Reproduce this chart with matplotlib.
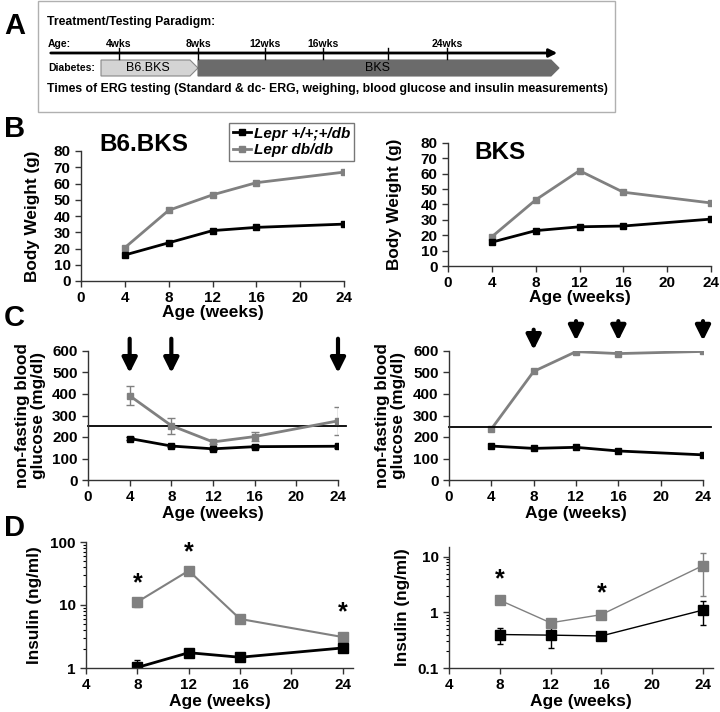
import matplotlib
matplotlib.use('Agg')
import numpy as np
import matplotlib.pyplot as plt
from matplotlib.patches import Polygon, Rectangle
from matplotlib.lines import Line2D

plt.rcParams['font.family'] = ['Liberation Sans', 'DejaVu Sans']
plt.rcParams['font.weight'] = 'bold'
plt.rcParams['axes.labelweight'] = 'bold'

# ---- data ----
weeks = [4, 8, 12, 16, 24]
ins_weeks = [8, 12, 16, 24]

# B: body weight (g)
bw_b6_het = [16, 23.5, 31, 33, 35]
bw_b6_db = [20.5, 43.5, 53, 60.5, 67]
bw_bks_het = [15.5, 23, 25.5, 26, 30.5]
bw_bks_db = [19, 43, 62, 48, 41]

# C: non-fasting blood glucose (mg/dl)
glu_b6_het = [193, 158, 145, 155, 157]
glu_b6_het_err = [8, 6, 6, 6, 6]
glu_b6_db = [392, 253, 177, 202, 275]
glu_b6_db_err = [45, 37, 10, 20, 65]
glu_bks_het = [158, 147, 152, 135, 117]
glu_bks_db = [237, 505, 597, 588, 598]
glu_threshold = [250, 245]
arrows_b6 = [4, 8, 24]
arrows_bks = [8, 12, 16, 24]

# D: insulin (ng/ml)
ins_b6_het = [1.02, 1.75, 1.48, 2.08]
ins_b6_het_lo = [0.0, 0.2, 0.1, 0.15]
ins_b6_het_hi = [0.32, 0.2, 0.1, 0.15]
ins_b6_db = [11.2, 35, 6.0, 3.1]
ins_b6_db_lo = [2.0, 2.0, 0.4, 0.2]
ins_b6_db_hi = [0.5, 2.0, 0.4, 0.2]
stars_b6 = [8, 12, 24]

ins_bks_het = [0.40, 0.39, 0.377, 1.1]
ins_bks_het_lo = [0.13, 0.16, 0.01, 0.51]
ins_bks_het_hi = [0.13, 0.16, 0.01, 0.5]
ins_bks_db = [1.66, 0.65, 0.91, 6.95]
ins_bks_db_lo = [0.05, 0.03, 0.04, 4.95]
ins_bks_db_hi = [0.05, 0.03, 0.04, 4.75]
stars_bks = [8, 16]

legend_labels = ['Lepr +/+;+/db', 'Lepr db/db']
paradigm_ticks = ['4wks', '8wks', '12wks', '16wks', '', '24wks']
paradigm_x = [119, 198, 265, 323, 388, 447]

BLACK = '#000000'
GRAY = '#808080'
W, H = 720, 712
XLAB = 12.5
YLAB = 12.3
TICK = 11

fig = plt.figure(figsize=(7.2, 7.12), dpi=100)


def rect(x0, y0, x1, y1):
    # pixel box (top-left origin) -> figure fraction
    return [x0 / W, (H - y1) / H, (x1 - x0) / W, (y1 - y0) / H]


def style(ax):
    for s in ['top', 'right']:
        ax.spines[s].set_visible(False)
    for s in ['left', 'bottom']:
        ax.spines[s].set_linewidth(1.0)
        ax.spines[s].set_color('#333333')
    ax.tick_params(labelsize=TICK, direction='out', length=4, width=1, color='#333333')
    for lab in ax.get_xticklabels() + ax.get_yticklabels():
        lab.set_fontweight('bold')


# ---- panel A (diagram in pixel coords) ----
ax_a = fig.add_axes([0, 0, 1, 1], zorder=-1)
ax_a.set_xlim(0, W)
ax_a.set_ylim(H, 0)
ax_a.axis('off')
ax_a.add_patch(Rectangle((38, 1), 577, 111, fill=False, ec='#b0b0b0', lw=1))
ax_a.text(47, 22, 'Treatment/Testing Paradigm:', fontsize=8.8, va='center', ha='left')
ax_a.text(48, 44, 'Age:', fontsize=7.5, va='center', ha='left')
ax_a.annotate('', xy=(560, 53), xytext=(48, 53),
              arrowprops=dict(arrowstyle='-|>', lw=2, color='k', mutation_scale=12))
for xp, lab in zip(paradigm_x, paradigm_ticks):
    ax_a.plot([xp, xp], [48, 59], color='k', lw=1)
    if lab:
        ax_a.text(xp, 44, lab, fontsize=7.5, va='center', ha='center')
ax_a.text(48, 68, 'Diabetes:', fontsize=7.5, va='center', ha='left')
ax_a.add_patch(Polygon([[101, 60], [190, 60], [198, 68], [190, 76], [101, 76]],
                       closed=True, fc='#d4d4d4', ec='#888888', lw=0.8))
ax_a.add_patch(Polygon([[198, 60], [551, 60], [559, 68], [551, 76], [198, 76]],
                       closed=True, fc='#6b6b6b', ec='#6b6b6b', lw=0.8))
ax_a.text(148, 68, 'B6.BKS', fontsize=9, fontweight='normal', va='center', ha='center')
ax_a.text(378, 68, 'BKS', fontsize=9, fontweight='normal', va='center', ha='center')
ax_a.text(47, 89, 'Times of ERG testing (Standard & dc- ERG, weighing, blood glucose and insulin measurements)',
          fontsize=8.8, va='center', ha='left')

for lab, yp in zip(['A', 'B', 'C', 'D'], [26, 129, 318, 528]):
    ax_a.text(4, yp, lab, fontsize=21, va='center', ha='left')

# ---- panel B ----
ax_b1 = fig.add_axes(rect(81, 151, 344, 281))
ax_b2 = fig.add_axes(rect(448, 143, 711, 266))
for ax, het, db, title, tpos in [(ax_b1, bw_b6_het, bw_b6_db, 'B6.BKS', (0.07, 1.05)),
                                 (ax_b2, bw_bks_het, bw_bks_db, 'BKS', (0.1, 0.92))]:
    ax.plot(weeks, db, '-s', color=GRAY, lw=2, ms=5)
    ax.plot(weeks, het, '-s', color=BLACK, lw=2, ms=5)
    ax.set_xlim(0, 24)
    ax.set_ylim(0, 80)
    ax.set_xticks(range(0, 25, 4))
    ax.set_yticks(range(0, 81, 10))
    ax.set_xlabel('Age (weeks)', fontsize=XLAB, labelpad=0)
    ax.set_ylabel('Body Weight (g)', fontsize=YLAB)
    ax.text(tpos[0], tpos[1], title, transform=ax.transAxes, fontsize=17.5,
            va='center', ha='left', clip_on=False)
    style(ax)
ax_b1.yaxis.set_label_coords(-0.156, 0.5)
ax_b2.yaxis.set_label_coords(-0.175, 0.5)

handles = [Line2D([], [], color=BLACK, marker='s', lw=2, ms=5),
           Line2D([], [], color=GRAY, marker='s', lw=2, ms=5)]
fig.legend(handles, legend_labels, loc='upper left', bbox_to_anchor=(229 / W, (H - 123) / H),
           bbox_transform=fig.transFigure, frameon=True, fancybox=False, edgecolor='#777777',
           framealpha=1, borderpad=0.25, handlelength=1.2, handletextpad=0.2, labelspacing=0.15,
           borderaxespad=0, prop=dict(size=11, style='italic', weight='bold'))

# ---- panel C ----
ax_c1 = fig.add_axes(rect(88, 351, 338, 480))
ax_c2 = fig.add_axes(rect(449, 351, 703, 480))
ax_c1.errorbar(weeks, glu_b6_db, yerr=glu_b6_db_err, fmt='-s', color=GRAY, lw=2, ms=5,
               elinewidth=1, capsize=3)
ax_c1.errorbar(weeks, glu_b6_het, yerr=glu_b6_het_err, fmt='-s', color=BLACK, lw=2, ms=5,
               elinewidth=1, capsize=3)
ax_c2.plot(weeks, glu_bks_db, '-s', color=GRAY, lw=2, ms=5)
ax_c2.plot(weeks, glu_bks_het, '-s', color=BLACK, lw=2, ms=5)
for ax, thr, arr, top, tip in [(ax_c1, glu_threshold[0], arrows_b6, 670, 485),
                               (ax_c2, glu_threshold[1], arrows_bks, 752, 635)]:
    ax.plot([0, 24.8], [thr, thr], color='k', lw=1.3, clip_on=False)
    for wk in arr:
        t, b = (top, tip) if not (ax is ax_c2 and wk == 8) else (712, 592)
        ax.annotate('', xy=(wk, b), xytext=(wk, t),
                    arrowprops=dict(arrowstyle='-|>', lw=3, color='k', mutation_scale=22),
                    annotation_clip=False)
    ax.set_xlim(0, 24)
    ax.set_ylim(0, 600)
    ax.set_xticks(range(0, 25, 4))
    ax.set_yticks(range(0, 601, 100))
    ax.set_xlabel('Age (weeks)', fontsize=XLAB, labelpad=1)
    ax.set_ylabel('non-fasting blood\nglucose (mg/dl)', fontsize=YLAB, linespacing=1.05)
    style(ax)
ax_c1.yaxis.set_label_coords(-0.17, 0.5)
ax_c2.yaxis.set_label_coords(-0.17, 0.5)

# ---- panel D ----
ax_d1 = fig.add_axes(rect(86, 542, 353, 668))
ax_d2 = fig.add_axes(rect(449, 547, 713, 668))
ax_d1.errorbar(ins_weeks, ins_b6_db, yerr=[ins_b6_db_lo, ins_b6_db_hi], fmt='-s', color=GRAY,
               lw=1.5, ms=7, elinewidth=1, capsize=2)
ax_d1.errorbar(ins_weeks, ins_b6_het, yerr=[ins_b6_het_lo, ins_b6_het_hi], fmt='-s', color=BLACK,
               lw=2, ms=7, elinewidth=1, capsize=2)
ax_d2.errorbar(ins_weeks, ins_bks_db, yerr=[ins_bks_db_lo, ins_bks_db_hi], fmt='-s', color=GRAY,
               lw=1, ms=7, elinewidth=1, capsize=2)
ax_d2.errorbar(ins_weeks, ins_bks_het, yerr=[ins_bks_het_lo, ins_bks_het_hi], fmt='-s', color=BLACK,
               lw=1, ms=7, elinewidth=1, capsize=2)
for wk in stars_b6:
    i = ins_weeks.index(wk)
    ax_d1.text(wk, ins_b6_db[i] * (1.25 if wk != 24 else 1.6), '*', fontsize=18,
               ha='center', va='bottom')
for wk in stars_bks:
    i = ins_weeks.index(wk)
    ax_d2.text(wk, ins_bks_db[i] * 1.45, '*', fontsize=18, ha='center', va='bottom')

for ax, ylim in [(ax_d1, (1, 100)), (ax_d2, (0.1, 15))]:
    ax.set_yscale('log')
    ax.set_xlim(4, 24.8)
    ax.set_ylim(*ylim)
    ax.set_xticks(range(4, 25, 4))
    ax.set_xlabel('Age (weeks)', fontsize=XLAB, labelpad=1)
    ax.set_ylabel('Insulin (ng/ml)', fontsize=YLAB)
    style(ax)
    ax.tick_params(axis='y', which='minor', length=2, width=0.8)
ax_d1.set_yticks([1, 10, 100])
ax_d1.set_yticklabels(['1', '10', '100'])
ax_d2.set_yticks([0.1, 1, 10])
ax_d2.set_yticklabels(['0.1', '1', '10'])
for ax in (ax_d1, ax_d2):
    for lab in ax.get_yticklabels():
        lab.set_fontweight('bold')
ax_d1.yaxis.set_label_coords(-0.165, 0.5)
ax_d2.yaxis.set_label_coords(-0.148, 0.5)

fig.savefig('out.png', dpi=100)
